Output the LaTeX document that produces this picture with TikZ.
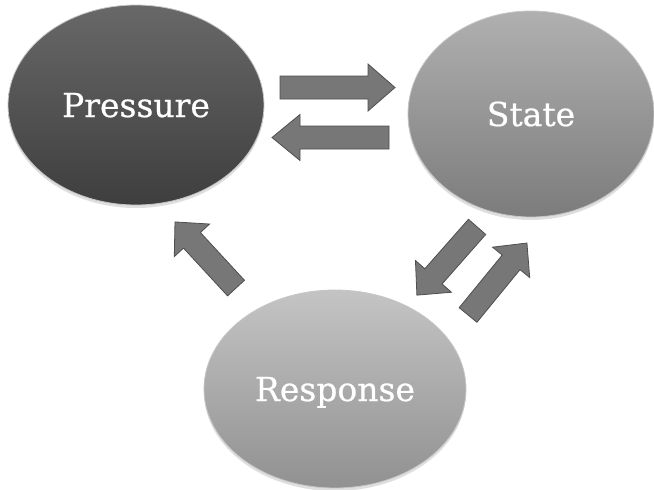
\documentclass[tikz,border=0pt]{standalone}
\usepackage{fontspec}
\setmainfont{DejaVu Serif}
\newfontfamily\blobfont{DejaVu Serif}[FakeBold=0.6]
\usetikzlibrary{shapes.geometric,shadows}
\definecolor{pTop}{HTML}{686868}
\definecolor{pBot}{HTML}{3E3E3E}
\definecolor{sTop}{HTML}{B0B0B0}
\definecolor{sBot}{HTML}{7C7C7C}
\definecolor{rTop}{HTML}{C4C4C4}
\definecolor{rBot}{HTML}{919191}
\definecolor{arrFill}{HTML}{777777}
\definecolor{arrLine}{HTML}{4E4E4E}
\tikzset{
  blob/.style={ellipse, draw=gray!45, line width=0.8pt, text=white,
    font=\blobfont\fontsize{33}{40}\selectfont, text height=24pt, text depth=0pt,
    drop shadow={opacity=0.25, shadow xshift=0pt, shadow yshift=-3pt}},
  arrowbody/.style={fill=arrFill, draw=arrLine, line width=0.8pt, line join=miter},
  pics/blockarrow/.style n args={3}{code={
    \pgfmathsetmacro\hl{#1/2}
    \pgfmathsetmacro\hb{#1/2-#3}
    \pgfmathsetmacro\hw{#2/2}
    \draw[arrowbody] (-\hl,-11.5) -- (\hb,-11.5) -- (\hb,-\hw) -- (\hl,0)
      -- (\hb,\hw) -- (\hb,11.5) -- (-\hl,11.5) -- cycle;
  }}
}
\begin{document}
\begin{tikzpicture}[x=1pt,y=-1pt]
\useasboundingbox (0,0) rectangle (654,490);
\node[blob, minimum width=256pt, minimum height=200pt, top color=pTop, bottom color=pBot]
  (P) at (136,105) {Pressure};
\node[blob, minimum width=246pt, minimum height=206pt, top color=sTop, bottom color=sBot]
  (S) at (531,114) {State};
\node[blob, minimum width=262pt, minimum height=198pt, top color=rTop, bottom color=rBot]
  (R) at (335,389) {Response};
\pic (PS) at (337.5,87.5) {blockarrow={115}{47}{27}};
\pic[rotate=180] (SP) at (330.5,137.5) {blockarrow={117}{46}{28}};
\pic[rotate=132.7] (RP) at (205.5,255) {blockarrow={90}{48}{25}};
\pic[rotate=228.6] (SR) at (447,261) {blockarrow={91}{48}{25}};
\pic[rotate=50.7] (RS) at (497.5,279) {blockarrow={93}{48}{25}};
\end{tikzpicture}
\end{document}
